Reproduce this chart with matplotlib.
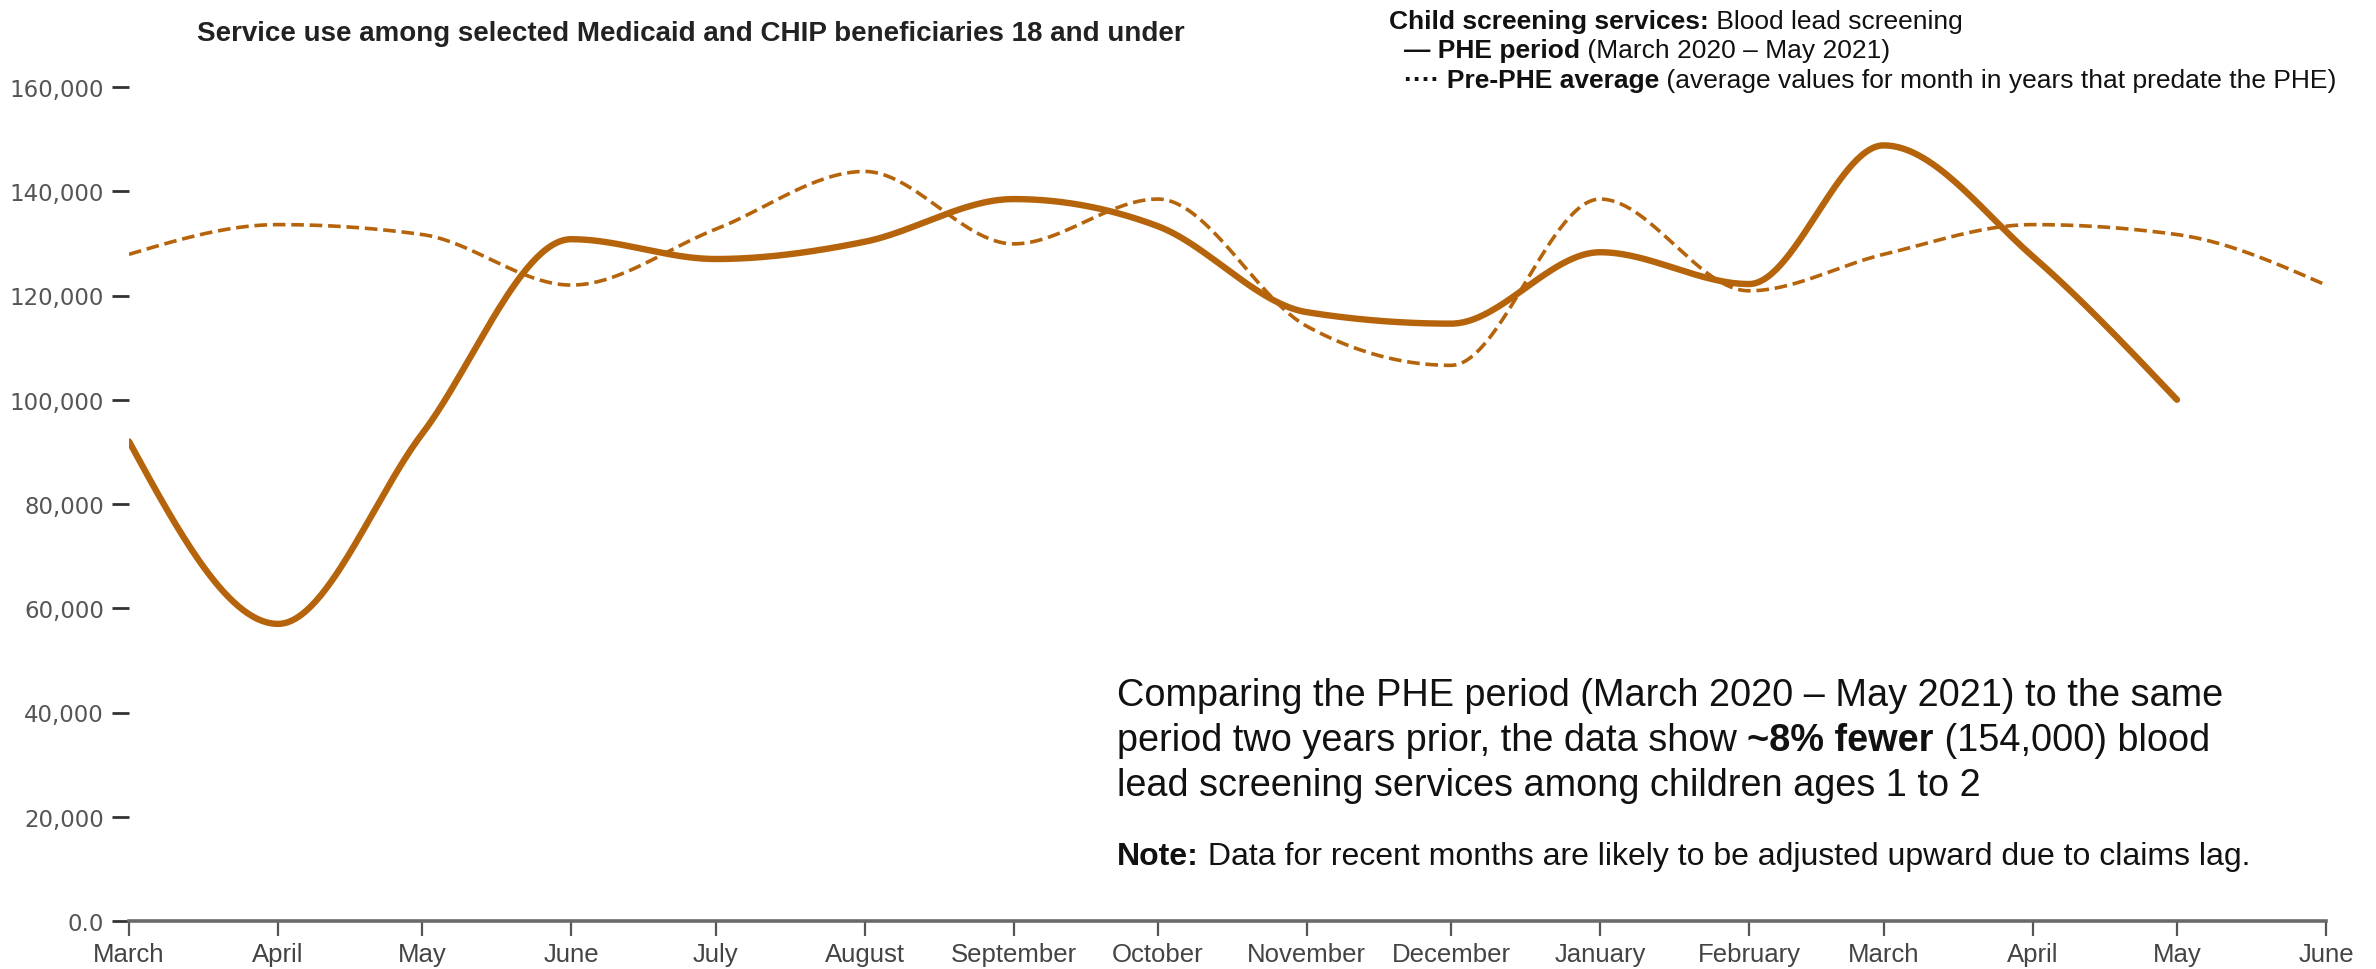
import datetime as dt
import numpy as np
import matplotlib
matplotlib.use("Agg")
import matplotlib.pyplot as plt
import matplotlib.dates as mdates
from matplotlib.ticker import FuncFormatter

# monthly values, March 2020 .. May 2021 (PHE) and March 2020 .. June 2021 (pre-PHE average)
month_starts = [dt.date(2020 + (2 + i) // 12, (2 + i) % 12 + 1, 1) for i in range(16)]
phe_values = [92000, 57000, 93500, 130800, 127000, 130300, 138500, 133300,
              116800, 114600, 128300, 122200, 148800, 127500, 100000]
pre_values = [127900, 133600, 131700, 122000, 132700, 143800, 129900, 138500,
              114100, 106600, 138500, 120900, 127900, 133600, 131700, 122000]
month_labels = ["March", "April", "May", "June", "July", "August", "September",
                "October", "November", "December", "January", "February",
                "March", "April", "May", "June"]
y_ticks = [0, 20000, 40000, 60000, 80000, 100000, 120000, 140000, 160000]

COLOR = "#b5640b"
W, H = 2376, 970


def monotone_x(x, y, n=60):
    # same idea as d3.curveMonotoneX
    x = np.asarray(x, float)
    y = np.asarray(y, float)
    h = np.diff(x)
    s = np.diff(y) / h
    t = np.zeros(len(x))
    for i in range(1, len(x) - 1):
        p = (s[i - 1] * h[i] + s[i] * h[i - 1]) / (h[i - 1] + h[i])
        t[i] = (np.sign(s[i - 1]) + np.sign(s[i])) * min(abs(s[i - 1]), abs(s[i]), 0.5 * abs(p))
    t[0] = (3 * s[0] - t[1]) / 2
    t[-1] = (3 * s[-1] - t[-2]) / 2
    xs, ys = [], []
    for i in range(len(x) - 1):
        u = np.linspace(0, 1, n, endpoint=False)
        h00 = 2 * u**3 - 3 * u**2 + 1
        h10 = u**3 - 2 * u**2 + u
        h01 = -2 * u**3 + 3 * u**2
        h11 = u**3 - u**2
        xs.append(x[i] + u * h[i])
        ys.append(h00 * y[i] + h10 * h[i] * t[i] + h01 * y[i + 1] + h11 * h[i] * t[i + 1])
    xs.append([x[-1]])
    ys.append([y[-1]])
    return np.concatenate(xs), np.concatenate(ys)


plt.rcParams['font.family'] = ['Liberation Sans', 'DejaVu Sans']

fig = plt.figure(figsize=(W / 100, H / 100), dpi=100)
ax = fig.add_axes([129 / W, 1 - 922 / H, (2326 - 129) / W, (922 - 88) / H])

xnum = mdates.date2num(month_starts)
px, py = monotone_x(xnum[:len(phe_values)], phe_values)
qx, qy = monotone_x(xnum, pre_values)
ax.plot(qx, qy, color=COLOR, lw=2.6, ls=(0, (3.5, 1.6)), solid_capstyle='butt')
ax.plot(px, py, color=COLOR, lw=4.6, solid_capstyle='round')

ax.set_xlim(xnum[0], xnum[-1])
ax.set_ylim(0, 160000)
ax.set_xticks(xnum)
ax.set_xticklabels(month_labels)
ax.set_yticks(y_ticks)
ax.yaxis.set_major_formatter(FuncFormatter(lambda v, p: "0.0" if v == 0 else f"{int(v):,}"))

for side in ["top", "right", "left"]:
    ax.spines[side].set_visible(False)
ax.spines["bottom"].set_color("#6a6a6a")
ax.spines["bottom"].set_linewidth(2.6)
ax.tick_params(axis="x", direction="out", length=10.8, width=1.6, color="#555555",
               labelsize=18.5, labelcolor="#444444", pad=4.5)
ax.tick_params(axis="y", direction="out", length=12, width=2, color="#333333",
               labelsize=16.5, labelcolor="#555555", pad=6)
for lab in ax.get_yticklabels():
    lab.set_fontfamily("DejaVu Sans")

fig.text(197 / W, 1 - 41 / H, "Service use among selected Medicaid and CHIP beneficiaries 18 and under",
         fontsize=20, fontweight="bold", color="#222222", va="baseline", ha="left")

renderer = fig.canvas.get_renderer()


def runs(x_px, y_px, parts, size, color="#111111"):
    x = x_px
    for txt, weight in parts:
        t = fig.text(x / W, 1 - y_px / H, txt, fontsize=size, fontweight=weight,
                     color=color, va="baseline", ha="left")
        x = t.get_window_extent(renderer).x1


runs(1389, 29, [("Child screening services:", "bold"), (" Blood lead screening", "normal")], 19)
runs(1404, 58, [("\u2014 PHE period", "bold"), (" (March 2020 \u2013 May 2021)", "normal")], 19)
runs(1404, 88, [("\u00b7\u00b7\u00b7\u00b7 Pre-PHE average", "bold"),
                (" (average values for month in years that predate the PHE)", "normal")], 19)

runs(1117, 706, [("Comparing the PHE period (March 2020 \u2013 May 2021) to the same", "normal")], 27.3)
runs(1117, 751, [("period two years prior, the data show ", "normal"), ("~8% fewer", "bold"),
                 (" (154,000) blood", "normal")], 27.3)
runs(1117, 796, [("lead screening services among children ages 1 to 2", "normal")], 27.3)
runs(1117, 865, [("Note:", "bold"), (" Data for recent months are likely to be adjusted upward due to claims lag.", "normal")], 23)

fig.savefig("out.png", dpi=100)
